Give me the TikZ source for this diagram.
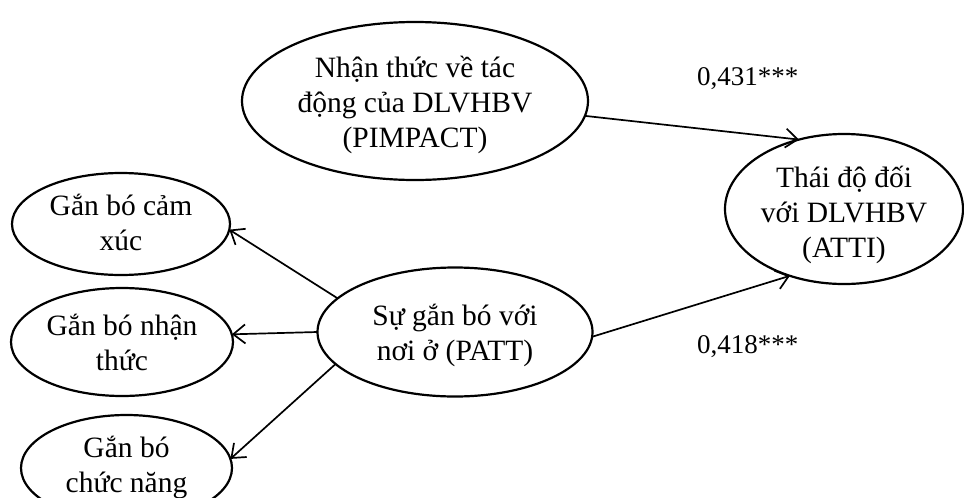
\documentclass[tikz,border=0pt]{standalone}
\usepackage{fontspec}
\setmainfont{Liberation Serif}
\usetikzlibrary{shapes.geometric,arrows.meta}
\tikzset{
  ell/.style={draw, ellipse, line width=2.2pt, inner sep=0pt, outer sep=0pt, align=center,
    text depth=0pt, font=\fontsize{29.5}{35}\selectfont},
  conn/.style={line width=1.7pt, -{Straight Barb[length=12pt,width=19pt,line width=1.7pt]}},
  coef/.style={anchor=base west, inner sep=0pt, font=\fontsize{27}{32}\selectfont}
}
\begin{document}
\begin{tikzpicture}[x=1pt,y=-1pt]
\useasboundingbox (0,0) rectangle (964,498);
\node[ell, text height=92pt, minimum width=346pt, minimum height=158pt] (pimpact) at (415,101)
  {Nhận thức về tác\\động của DLVHBV\\(PIMPACT)};
\node[ell, text height=96pt, minimum width=238pt, minimum height=150pt] (atti) at (844,209)
  {Thái độ đối\\với DLVHBV\\(ATTI)};
\node[ell, text height=56pt, minimum width=275pt, minimum height=129pt] (patt) at (455,332)
  {Sự gắn bó với\\nơi ở (PATT)};
\node[ell, text height=52pt, minimum width=218pt, minimum height=102pt] (cx) at (121,224)
  {Gắn bó cảm\\xúc};
\node[ell, text height=56pt, minimum width=222pt, minimum height=108pt] (nt) at (122,342)
  {Gắn bó nhận\\thức};
\node[ell, text height=48pt, minimum width=211pt, minimum height=106pt] (cn) at (126.5,468)
  {Gắn bó\\chức năng};
\draw[conn] (pimpact.-5.6) -- (atti.123.5);
\draw[conn] (patt.-2.5) -- (atti.231);
\draw[conn] (patt.164) -- (cx.-3.7);
\draw[conn] (patt.180) -- (nt.4);
\draw[conn] (patt.195.4) -- (cn.5.4);
\node[coef] (c1) at (697,85) {0,431***};
\node[coef] (c2) at (697,353) {0,418***};
\end{tikzpicture}
\end{document}
